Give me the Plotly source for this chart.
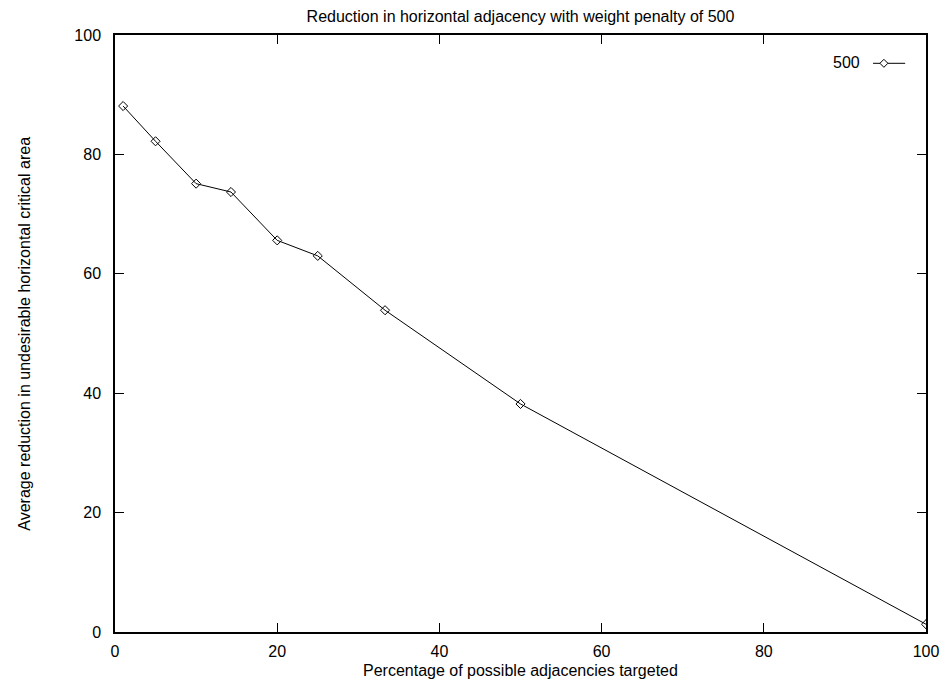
import plotly.graph_objects as go

pct_targeted = [1, 5, 10, 14.3, 20, 25, 33.3, 50, 100]
avg_reduction = [88.1, 82.2, 75.1, 73.7, 65.6, 63.0, 53.9, 38.2, 1.3]
series_name = "500"
tick_vals = [0, 20, 40, 60, 80, 100]

font = dict(family="Liberation Sans, Arial, sans-serif", size=16, color="black")

fig = go.Figure()
fig.add_trace(go.Scatter(
    x=pct_targeted, y=avg_reduction, mode="lines+markers", name=series_name,
    line=dict(color="black", width=1),
    marker=dict(symbol="diamond-open", size=7, color="black", line=dict(width=1)),
    showlegend=False,
))

axis_common = dict(
    range=[0, 100], tickvals=tick_vals, ticks="inside", ticklen=9, tickwidth=1,
    tickcolor="black", showline=True, linecolor="black", linewidth=1.5,
    mirror="ticks", showgrid=False, zeroline=False, tickfont=font,
)

fig.update_layout(
    width=951, height=683,
    margin=dict(l=114.5, r=19.3, t=35, b=50.5),
    paper_bgcolor="white", plot_bgcolor="white",
    font=font,
    title=dict(text="Reduction in horizontal adjacency with weight penalty of 500",
               x=0.5, xref="paper", xanchor="center",
               y=1 - 16.5 / 683, yanchor="middle", font=font),
    xaxis=dict(axis_common, ticklabelstandoff=4),
    yaxis=dict(axis_common, ticklabelstandoff=9),
)

fig.add_annotation(xref="paper", yref="paper", x=0.5, y=-0.0644,
                   text="Percentage of possible adjacencies targeted",
                   showarrow=False, xanchor="center", yanchor="middle", font=font)
fig.add_annotation(xref="paper", yref="paper", x=-0.112, y=0.5,
                   text="Average reduction in undesirable horizontal critical area",
                   textangle=-90, showarrow=False, xanchor="center", yanchor="middle", font=font)

# legend key (gnuplot style: label then sample)
fig.add_annotation(xref="paper", yref="paper", x=0.9205, y=0.954, text=series_name,
                   showarrow=False, xanchor="right", yanchor="middle", font=font)
fig.add_shape(type="line", xref="paper", yref="paper", x0=0.9347, x1=0.9743, y0=0.9526, y1=0.9526,
              line=dict(color="black", width=1))
fig.add_shape(type="path", xref="paper", yref="paper",
              path="M 0.9432 0.9526 L 0.9481 0.9593 L 0.953 0.9526 L 0.9481 0.9459 Z",
              line=dict(color="black", width=1), fillcolor="white")

fig.write_html("out.html", config={"displayModeBar": False},
               post_script="document.body.style.margin='0';")
